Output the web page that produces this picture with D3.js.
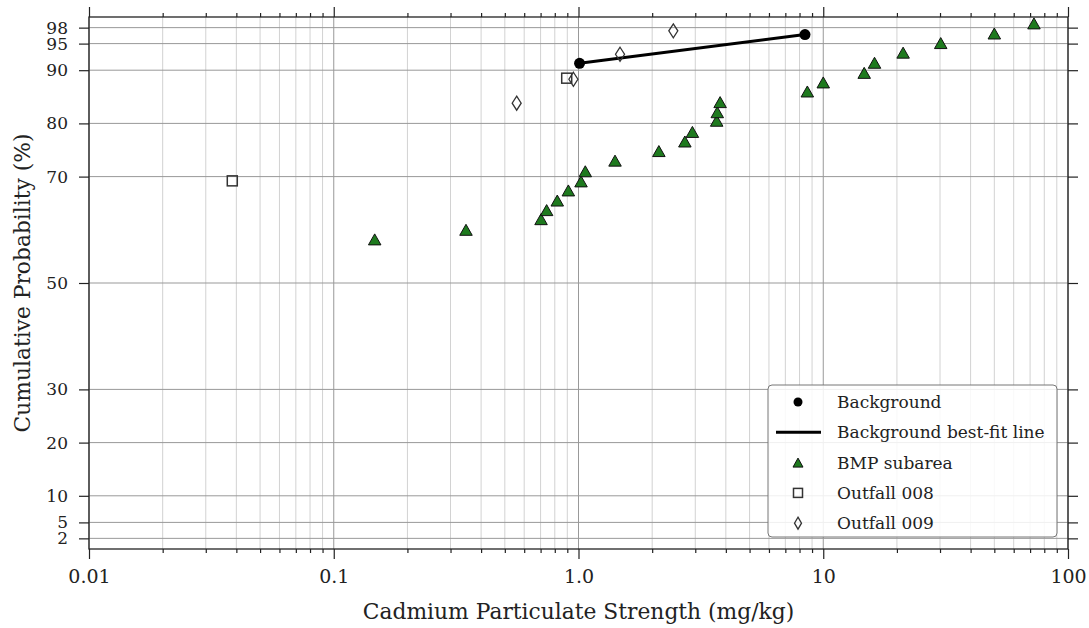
<!DOCTYPE html>
<html><head><meta charset="utf-8">
<script src="https://cdn.jsdelivr.net/npm/d3@7"></script>
<style>
html,body{margin:0;padding:0;background:#fff;}
svg text{font-family:"DejaVu Serif",serif;fill:#222;}
</style></head>
<body>
<svg id="chart" width="1089" height="628"></svg>
<script>
// ---- data ----
const bgX = [1.01, 8.42];
const bgY = [91.3, 96.7];
const fitX = [1.01, 8.42];
const fitY = [91.3, 96.7];
const bmpX = [0.147, 0.347, 0.703, 0.741, 0.819, 0.909, 1.024, 1.066, 1.41, 2.13, 2.72, 2.92, 3.67, 3.69, 3.79, 8.61, 10.0, 14.7, 16.2, 21.2, 30.2, 50.0, 72.6];
const bmpY = [58.2, 60.0, 62.0, 63.7, 65.5, 67.4, 69.1, 71.0, 73.0, 74.8, 76.6, 78.4, 80.5, 82.1, 84.0, 86.0, 87.7, 89.5, 91.4, 93.3, 95.1, 96.9, 98.8];
const o008X = [0.0385, 0.895];
const o008Y = [69.2, 88.5];
const o009X = [0.559, 0.953, 1.478, 2.44];
const o009Y = [83.8, 88.3, 93.0, 97.4];
const xMajor = [0.01, 0.1, 1, 10, 100];
const xMajorLabels = ["0.01", "0.1", "1.0", "10", "100"];
const yTicks = [2, 5, 10, 20, 30, 50, 70, 80, 90, 95, 98];
const legendLabels = ["Background", "Background best-fit line", "BMP subarea", "Outfall 008", "Outfall 009"];
const xTitle = "Cadmium Particulate Strength (mg/kg)";
const yTitle = "Cumulative Probability (%)";

// ---- layout ----
const L = 89, R = 1068, T = 17, B = 549;
const svg = d3.select("#chart");
const x = d3.scaleLog().domain([0.01, 100]).range([L, R]);
const y = d3.scaleLinear().domain([0, 100]).range([B, T]);

const xMinor = [];
for (let e = -2; e < 2; e++) for (let m = 2; m <= 9; m++) xMinor.push(m * Math.pow(10, e));

// grid
const grid = svg.append("g");
grid.selectAll(".vmin").data(xMinor).join("line")
  .attr("x1", d => x(d)).attr("x2", d => x(d)).attr("y1", T).attr("y2", B)
  .attr("stroke", "#d2d2d2").attr("stroke-width", 1);
grid.selectAll(".vmaj").data(xMajor).join("line")
  .attr("x1", d => x(d)).attr("x2", d => x(d)).attr("y1", T).attr("y2", B)
  .attr("stroke", "#999").attr("stroke-width", 1);
grid.selectAll(".h").data(yTicks).join("line")
  .attr("x1", L).attr("x2", R).attr("y1", d => y(d)).attr("y2", d => y(d))
  .attr("stroke", "#999").attr("stroke-width", 1);

// axes
function styleAxis(size) {
  return g => {
    g.select(".domain").remove();
    g.selectAll(".tick line").attr("stroke", "#222").attr("stroke-width", 1.2);
    g.selectAll("text").attr("font-size", size).attr("fill", "#222");
  };
}
svg.append("g").attr("transform", `translate(0,${B})`)
  .call(d3.axisBottom(x).tickValues(xMajor).tickSize(10).tickPadding(11).tickFormat((d, i) => xMajorLabels[i]))
  .call(styleAxis(19));
svg.append("g").attr("transform", `translate(0,${B})`)
  .call(d3.axisBottom(x).tickValues(xMinor).tickSize(4).tickFormat(""))
  .call(styleAxis(19));
svg.append("g").attr("transform", `translate(0,${T})`)
  .call(d3.axisTop(x).tickValues(xMajor).tickSize(10).tickFormat(""))
  .call(styleAxis(19));
svg.append("g").attr("transform", `translate(0,${T})`)
  .call(d3.axisTop(x).tickValues(xMinor).tickSize(4).tickFormat(""))
  .call(styleAxis(19));
svg.append("g").attr("transform", `translate(${L},0)`)
  .call(d3.axisLeft(y).tickValues(yTicks).tickSize(10).tickPadding(11).tickFormat(d3.format("d")))
  .call(styleAxis(17));
svg.append("g").attr("transform", `translate(${R},0)`)
  .call(d3.axisRight(y).tickValues(yTicks).tickSize(10).tickFormat(""))
  .call(styleAxis(17));

// frame
svg.append("rect").attr("x", L).attr("y", T).attr("width", R - L).attr("height", B - T)
  .attr("fill", "none").attr("stroke", "#222").attr("stroke-width", 1.3);

// titles
svg.append("text").attr("x", (L + R) / 2).attr("y", 619).attr("text-anchor", "middle")
  .attr("font-size", 21.8).text(xTitle);
svg.append("text").attr("transform", `translate(30,${(T + B) / 2}) rotate(-90)`)
  .attr("text-anchor", "middle").attr("font-size", 21.8).text(yTitle);

// marker shapes
const triPath = (w, h) => `M0,${-h / 2}L${w / 2},${h / 2}L${-w / 2},${h / 2}Z`;
const diaPath = (w, h) => `M0,${-h / 2}L${w / 2},0L0,${h / 2}L${-w / 2},0Z`;

const plot = svg.append("g");
// best-fit line
plot.append("path")
  .datum(fitX.map((v, i) => [v, fitY[i]]))
  .attr("d", d3.line().x(d => x(d[0])).y(d => y(d[1])))
  .attr("fill", "none").attr("stroke", "#000").attr("stroke-width", 3);

// Outfall 008
plot.selectAll(".sq").data(o008X.map((v, i) => [v, o008Y[i]])).join("rect")
  .attr("x", d => x(d[0]) - 5).attr("y", d => y(d[1]) - 5).attr("width", 10).attr("height", 10)
  .attr("fill", "none").attr("stroke", "#333").attr("stroke-width", 1.5);
// Outfall 009
plot.selectAll(".dia").data(o009X.map((v, i) => [v, o009Y[i]])).join("path")
  .attr("transform", d => `translate(${x(d[0])},${y(d[1])})`)
  .attr("d", diaPath(9, 14)).attr("fill", "none").attr("stroke", "#333").attr("stroke-width", 1.3);
// BMP subarea
plot.selectAll(".tri").data(bmpX.map((v, i) => [v, bmpY[i]])).join("path")
  .attr("transform", d => `translate(${x(d[0])},${y(d[1])})`)
  .attr("d", triPath(12.5, 11)).attr("fill", "#1e7a1e").attr("stroke", "#111").attr("stroke-width", 1);
// Background
plot.selectAll(".bg").data(bgX.map((v, i) => [v, bgY[i]])).join("circle")
  .attr("cx", d => x(d[0])).attr("cy", d => y(d[1])).attr("r", 5.5).attr("fill", "#000");

// legend
const lg = svg.append("g");
lg.append("rect").attr("x", 768).attr("y", 385).attr("width", 289).attr("height", 152).attr("rx", 4)
  .attr("fill", "#fff").attr("fill-opacity", 0.85).attr("stroke", "#777").attr("stroke-width", 1);
const rowY = i => 402 + i * 30.3;
const symX = 798;
lg.append("circle").attr("cx", symX).attr("cy", rowY(0)).attr("r", 4.5).attr("fill", "#000");
lg.append("line").attr("x1", 776).attr("x2", 821).attr("y1", rowY(1)).attr("y2", rowY(1))
  .attr("stroke", "#000").attr("stroke-width", 3);
lg.append("path").attr("transform", `translate(${symX},${rowY(2)})`).attr("d", triPath(10, 9))
  .attr("fill", "#1e7a1e").attr("stroke", "#111").attr("stroke-width", 1);
lg.append("rect").attr("x", symX - 4.5).attr("y", rowY(3) - 4.5).attr("width", 9).attr("height", 9)
  .attr("fill", "none").attr("stroke", "#333").attr("stroke-width", 1.5);
lg.append("path").attr("transform", `translate(${symX},${rowY(4)})`).attr("d", diaPath(7, 12))
  .attr("fill", "none").attr("stroke", "#333").attr("stroke-width", 1.3);
lg.selectAll(".lt").data(legendLabels).join("text")
  .attr("x", 837).attr("y", (d, i) => rowY(i)).attr("dy", "0.35em")
  .attr("font-size", 17).text(d => d);
</script>
</body></html>
